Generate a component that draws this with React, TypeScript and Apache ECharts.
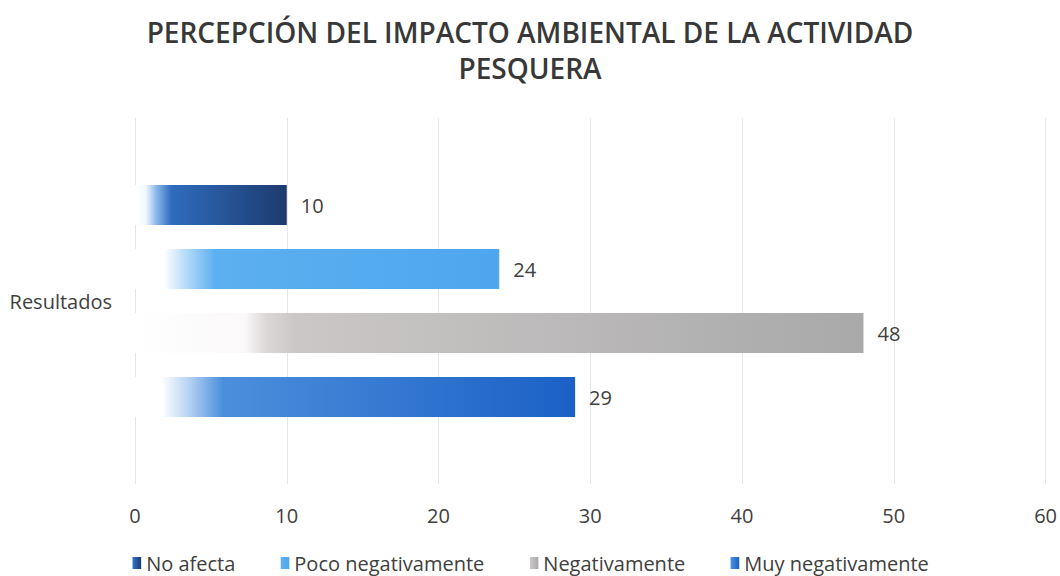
import React, { useEffect, useRef } from "react";
import * as echarts from "echarts";

const titleText = "PERCEPCIÓN DEL IMPACTO AMBIENTAL DE LA ACTIVIDAD\nPESQUERA";
const categories = ["Resultados"];
const seriesNames = ["No afecta", "Poco negativamente", "Negativamente", "Muy negativamente"];
const noAfecta = [10];
const pocoNegativamente = [24];
const negativamente = [48];
const muyNegativamente = [29];
const xTicks = { min: 0, max: 60, interval: 10 };

const FONT = "'Open Sans', Lato, sans-serif";
const TXT = "#404040";

function grad(stops: [number, string][]) {
  return new echarts.graphic.LinearGradient(
    0, 0, 1, 0,
    stops.map(([offset, color]) => ({ offset, color }))
  );
}

const styles = [
  grad([[0, "#ffffff"], [0.07, "#f4f9ff"], [0.14, "#8ab8ec"], [0.24, "#2f6cbd"], [1, "#1d3a6e"]]),
  grad([[0, "#ffffff"], [0.08, "#ffffff"], [0.13, "#bfe0fb"], [0.22, "#5cb0f0"], [1, "#4ea6ee"]]),
  grad([[0, "#ffffff"], [0.15, "#fbf9f9"], [0.18, "#dcd8d8"], [0.22, "#cbc7c7"], [1, "#a9a9a9"]]),
  grad([[0, "#ffffff"], [0.06, "#ffffff"], [0.12, "#b8d4f4"], [0.2, "#4b8fdc"], [1, "#1b60c6"]]),
];

export default function App() {
  const ref = useRef<HTMLDivElement>(null);
  useEffect(() => {
    if (!ref.current) return;
    const chart = echarts.init(ref.current, undefined, { renderer: "svg" });
    const values = [noAfecta, pocoNegativamente, negativamente, muyNegativamente];
    chart.setOption({
      animation: false,
      backgroundColor: "#ffffff",
      title: {
        text: titleText,
        left: "center",
        top: 9,
        textStyle: {
          fontFamily: FONT,
          fontSize: 28,
          fontWeight: 600,
          color: "#383838",
          lineHeight: 36,
        },
      },
      legend: {
        bottom: -2,
        left: "center",
        itemWidth: 10,
        itemHeight: 12,
        itemGap: 44,
        icon: "rect",
        textStyle: { fontFamily: FONT, fontSize: 20, color: TXT },
        data: seriesNames,
      },
      grid: { left: 135, right: 14, top: 118, bottom: 92 },
      xAxis: {
        type: "value",
        min: xTicks.min,
        max: xTicks.max,
        interval: xTicks.interval,
        axisLine: { show: false },
        axisTick: { show: false },
        axisLabel: { fontFamily: FONT, fontSize: 20, color: TXT, margin: 21 },
        splitLine: { show: true, lineStyle: { color: "#e4e7eb", width: 1 } },
      },
      yAxis: {
        type: "category",
        inverse: true,
        data: categories,
        axisLine: { show: false },
        axisTick: { show: false },
        axisLabel: { fontFamily: FONT, fontSize: 20, color: TXT, margin: 23 },
      },
      series: seriesNames.map((name, i) => ({
        name,
        type: "bar",
        data: values[i],
        barWidth: 40,
        barGap: "60%",
        itemStyle: { color: styles[i] },
        label: {
          show: true,
          position: "right",
          distance: 14,
          fontFamily: FONT,
          fontSize: 20,
          color: TXT,
        },
      })),
    });
    return () => chart.dispose();
  }, []);
  return <div ref={ref} style={{ width: 1060, height: 576, position: "absolute", left: 0, top: 0 }} />;
}
